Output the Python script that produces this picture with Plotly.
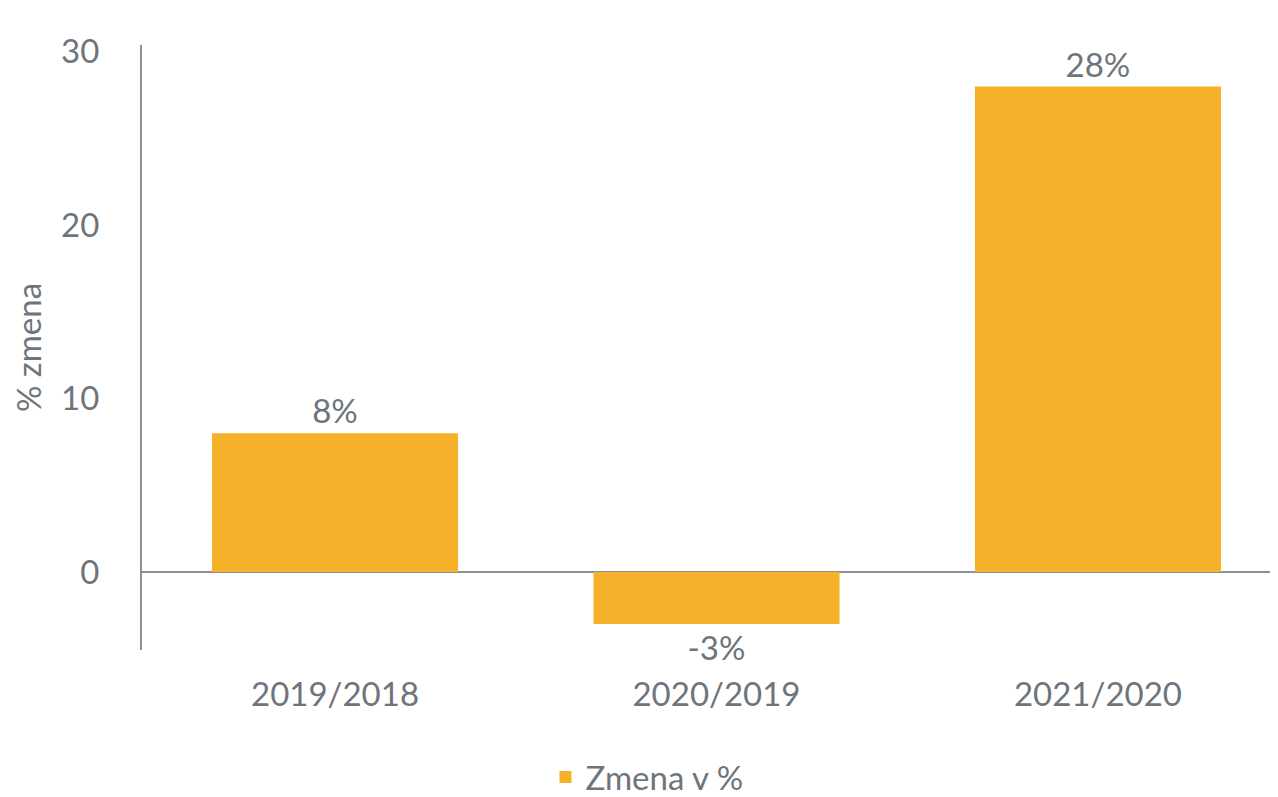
import plotly.graph_objects as go

categories = ["2019/2018", "2020/2019", "2021/2020"]
values = [8, -3, 28]
value_labels = [f"{v}%" for v in values]
series_name = "Zmena v %"
y_title = "% zmena"
y_ticks = [0, 10, 20, 30]

bar_color = "#F5B12A"
text_color = "#6E747B"
axis_color = "#8C9198"
font_family = "Lato, 'Open Sans', sans-serif"
fs = 33

fig = go.Figure()
fig.add_trace(go.Bar(
    x=categories,
    y=values,
    name=series_name,
    marker=dict(color=bar_color, line=dict(width=0)),
    text=value_labels,
    texttemplate="%{text}",
    textposition="outside",
    cliponaxis=False,
    textfont=dict(size=fs, color=text_color, family=font_family),
    showlegend=True,
))

fig.update_layout(
    width=1278,
    height=797,
    margin=dict(l=134, r=8, t=37, b=155, autoexpand=False),
    paper_bgcolor="white",
    plot_bgcolor="white",
    bargap=0.355,
    font=dict(family=font_family, color=text_color, size=fs),
    showlegend=True,
    legend=dict(
        orientation="h",
        xref="container", yref="container",
        x=0.5, xanchor="center",
        y=0.0, yanchor="bottom",
        font=dict(size=fs, color=text_color),
    ),
    xaxis=dict(
        range=[-0.506, 2.472],
        automargin=False,
        showgrid=False,
        showline=False,
        zeroline=False,
        ticks="",
        ticklabelstandoff=22,
        tickfont=dict(size=fs, color=text_color),
    ),
    yaxis=dict(
        range=[-4.5, 30.4],
        automargin=False,
        tickvals=y_ticks,
        showgrid=False,
        showline=True,
        linecolor=axis_color,
        linewidth=2,
        zeroline=True,
        zerolinecolor=axis_color,
        zerolinewidth=2,
        ticks="",
        ticklabelstandoff=34,
        tickfont=dict(size=fs, color=text_color),
        title=dict(text=y_title, font=dict(size=fs, color=text_color), standoff=12),
    ),
)

fig.write_html("out.html")
